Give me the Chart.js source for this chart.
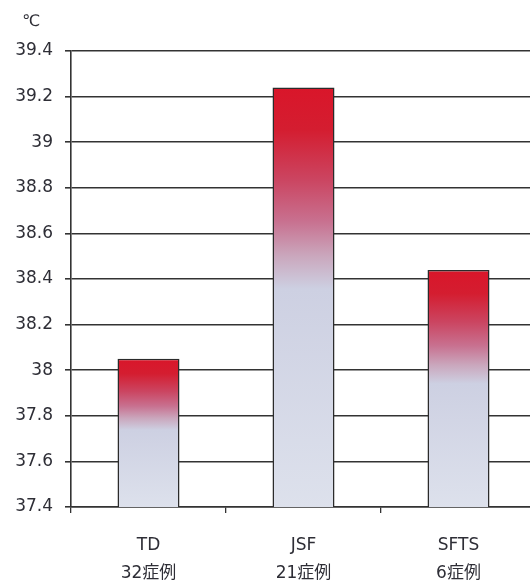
<!DOCTYPE html>
<html>
<head>
<meta charset="utf-8">
<script src="https://cdn.jsdelivr.net/npm/chart.js@4"></script>
<style>
  html, body { margin: 0; padding: 0; background: #fff; overflow: hidden; }
  #wrap { position: relative; width: 536px; height: 585px; }
</style>
</head>
<body>
<div id="wrap"><canvas id="c"></canvas></div>
<script>
// Fever peak (°C) by disease group
const categories = [['TD', '32症例'], ['JSF', '21症例'], ['SFTS', '6症例']];
const temperatures = [38.05, 39.24, 38.44];
const yTickLabels = ['37.4', '37.6', '37.8', '38', '38.2', '38.4', '38.6', '38.8', '39', '39.2', '39.4'];
const yMin = 37.4, yMax = 39.4, yStep = 0.2;
const unitLabel = '℃';

const FONT = "'DejaVu Sans', 'Noto Sans CJK JP', sans-serif";

// Vertical fill for each bar: red at the top fading to pale blue-grey below
function barFill(ctx) {
  const chart = ctx.chart;
  if (!chart.chartArea || ctx.type !== 'data') return '#d0d6e6';
  const y = chart.scales.y;
  const top = y.getPixelForValue(ctx.raw);
  const bottom = y.getPixelForValue(yMin);
  const g = chart.ctx.createLinearGradient(0, top, 0, bottom);
  g.addColorStop(0.00, '#d9162a');
  g.addColorStop(0.10, '#d41d30');
  g.addColorStop(0.22, '#cb4561');
  g.addColorStop(0.32, '#c87190');
  g.addColorStop(0.40, '#caa6bc');
  g.addColorStop(0.48, '#cdd0e2');
  g.addColorStop(1.00, '#dde1ec');
  return g;
}

const unitPlugin = {
  id: 'unitText',
  afterDraw(chart) {
    const c = chart.ctx;
    c.save();
    c.fillStyle = '#2e2e36';
    c.font = '16px ' + FONT;
    c.textAlign = 'left';
    c.textBaseline = 'middle';
    c.fillText(unitLabel, 22, 22);
    c.restore();
  }
};

new Chart(document.getElementById('c'), {
  type: 'bar',
  data: {
    labels: categories,
    datasets: [{
      data: temperatures,
      backgroundColor: barFill,
      borderColor: '#2b2b2b',
      borderWidth: 1.5,
      borderSkipped: false,
      barPercentage: 0.4,
      categoryPercentage: 1.0
    }]
  },
  options: {
    responsive: true,
    maintainAspectRatio: false,
    animation: false,
    layout: { padding: { top: 51, left: 0, right: 0, bottom: 0 } },
    plugins: {
      legend: { display: false },
      tooltip: { enabled: false }
    },
    scales: {
      x: {
        offset: true,
        grid: {
          offset: true,
          drawOnChartArea: false,
          drawTicks: true,
          tickLength: 6,
          color: '#333',
          lineWidth: 1.3
        },
        border: { display: true, color: '#333', width: 1.6 },
        ticks: {
          color: '#2e2e36',
          font: { family: FONT, size: 17, lineHeight: 1.65 },
          padding: 19,
          maxRotation: 0
        },
        afterFit(scale) { scale.height = 78; }
      },
      y: {
        min: yMin,
        max: yMax,
        grid: {
          drawOnChartArea: true,
          drawTicks: true,
          tickLength: 6,
          color: '#333',
          lineWidth: 1.6
        },
        border: { display: true, color: '#333', width: 1.6 },
        ticks: {
          stepSize: yStep,
          color: '#2e2e36',
          font: { family: FONT, size: 17 },
          padding: 12,
          callback: (v, i) => yTickLabels[i]
        },
        afterFit(scale) { scale.width = 71; }
      }
    }
  },
  plugins: [unitPlugin]
});
</script>
</body>
</html>
